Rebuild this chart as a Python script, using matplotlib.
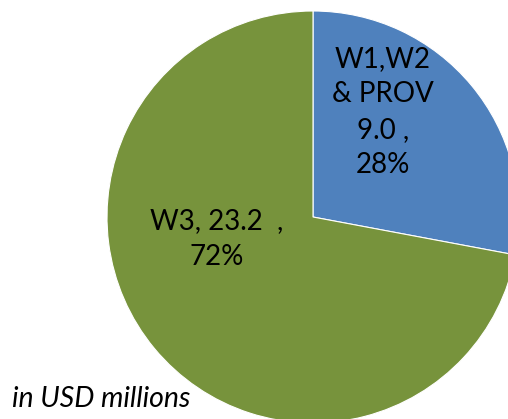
import matplotlib.pyplot as plt

labels = ["W1,W2\n& PROV", "W3"]
values = [9.0, 23.2]
colors = ["#4F81BD", "#77933C"]

W, H = 508, 419
cx, cy, r = 313, 217, 206

fig = plt.figure(figsize=(W / 100, H / 100), dpi=100)
ax = fig.add_axes([0, 0, 1, 1])
ax.pie(values, colors=colors, startangle=90, counterclock=False, radius=1,
       wedgeprops=dict(linewidth=0.8, edgecolor="white"))
ax.set_xlim(-cx / r, (W - cx) / r)
ax.set_ylim(-(H - cy) / r, cy / r)
ax.set_aspect("equal")
ax.axis("off")

total = sum(values)
pct = [round(v / total * 100) for v in values]

def px(x, y):
    return (x - cx) / r, (cy - y) / r

font = "Lato"
ax.text(*px(383, 112), f"{labels[0]}\n{values[0]:.1f} ,\n{pct[0]}%", ha="center", va="center",
        fontsize=20, family=font, linespacing=1.45)
ax.text(*px(217, 239), f"{labels[1]}, {values[1]:.1f}  ,\n{pct[1]}%", ha="center", va="center",
        fontsize=20, family=font, linespacing=1.45)
ax.text(*px(12, 399), "in USD millions", ha="left", va="center", fontsize=20.5,
        family=font, style="italic")

fig.savefig("out.png", dpi=100)
